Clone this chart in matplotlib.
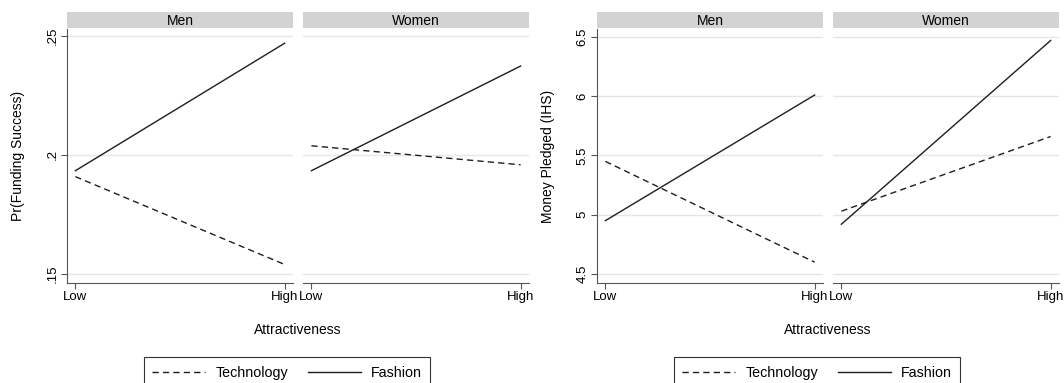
import matplotlib.pyplot as plt

# x categories
levels = ["Low", "High"]
groups = ["Men", "Women"]

# Pr(Funding Success)
success_tech = {"Men": [0.1908, 0.1538], "Women": [0.2038, 0.1958]}
success_fashion = {"Men": [0.1933, 0.2470], "Women": [0.1933, 0.2374]}

# Money Pledged (IHS)
pledged_tech = {"Men": [5.45, 4.60], "Women": [5.03, 5.66]}
pledged_fashion = {"Men": [4.95, 6.01], "Women": [4.92, 6.47]}

W, H = 1064, 383
fig = plt.figure(figsize=(W / 100, H / 100), dpi=100)
plt.rcParams['font.family'] = ['Liberation Sans', 'DejaVu Sans']

LINE = "#1e1e1e"
GRID = "#e6e6e6"
SPINE = "#555555"
DASH = (0, (4.5, 3.0))


def px_axes(x0, y0, x1, y1, **kw):
    # pixel box (top-left origin) -> figure axes
    return fig.add_axes([x0 / W, 1 - y1 / H, (x1 - x0) / W, (y1 - y0) / H], **kw)


def draw_chart(x_starts, tech, fashion, ylim, yticks, yticklabels, ylabel, ylabel_x, legend_x):
    for i, (g, x0) in enumerate(zip(groups, x_starts)):
        x1 = x0 + 226
        ax = px_axes(x0, 29, x1, 283)
        xs = range(len(levels))
        ax.plot(xs, tech[g], color=LINE, lw=1.0, ls=DASH, label="Technology")
        ax.plot(xs, fashion[g], color=LINE, lw=1.0, label="Fashion")
        ax.set_xlim(-0.04, 1.04)
        ax.set_ylim(*ylim)
        ax.set_yticks(yticks)
        for t in yticks:
            ax.axhline(t, color=GRID, lw=1.0, zorder=0)
        ax.set_xticks(list(xs))
        ax.set_xticklabels(levels, fontsize=9.5)
        for s in ["top", "right"]:
            ax.spines[s].set_visible(False)
        ax.spines["bottom"].set_color(SPINE)
        ax.spines["left"].set_color(SPINE)
        ax.tick_params(axis="both", color=SPINE, length=4, width=0.8, pad=2)
        if i == 0:
            ax.set_yticklabels(yticklabels, fontsize=9.5, rotation=90, va="center")
        else:
            ax.spines["left"].set_visible(False)
            ax.tick_params(axis="y", left=False, labelleft=False)

        strip = px_axes(x0, 12, x1, 28)
        strip.set_facecolor("#d3d3d3")
        strip.set_xticks([])
        strip.set_yticks([])
        for s in strip.spines.values():
            s.set_visible(False)
        strip.text(0.5, 0.45, g, ha="center", va="center", fontsize=10)

    mid = (x_starts[0] + x_starts[1] + 226) / 2
    fig.text(mid / W, 1 - 330 / H, "Attractiveness", ha="center", va="center", fontsize=10)
    fig.text(ylabel_x / W, 1 - 156 / H, ylabel, ha="center", va="center", rotation=90, fontsize=10)

    handles, labels = ax.get_legend_handles_labels()
    leg = fig.legend(handles, labels, ncol=2, loc="upper center",
                     bbox_to_anchor=(legend_x / W, 1 - 357 / H),
                     fancybox=False, edgecolor="#333333", fontsize=10.3,
                     handlelength=3.7, columnspacing=1.4, borderpad=0.6,
                     handletextpad=0.7, borderaxespad=0, framealpha=1)
    leg.get_frame().set_linewidth(0.8)


draw_chart([67, 303], success_tech, success_fashion, (0.146, 0.253),
           [0.15, 0.2, 0.25], [".15", ".2", ".25"], "Pr(Funding Success)", 18, 287)
draw_chart([597, 833], pledged_tech, pledged_fashion, (4.424, 6.567),
           [4.5, 5, 5.5, 6, 6.5], ["4.5", "5", "5.5", "6", "6.5"], "Money Pledged (IHS)", 548, 817)

fig.savefig("out.png", dpi=100)
